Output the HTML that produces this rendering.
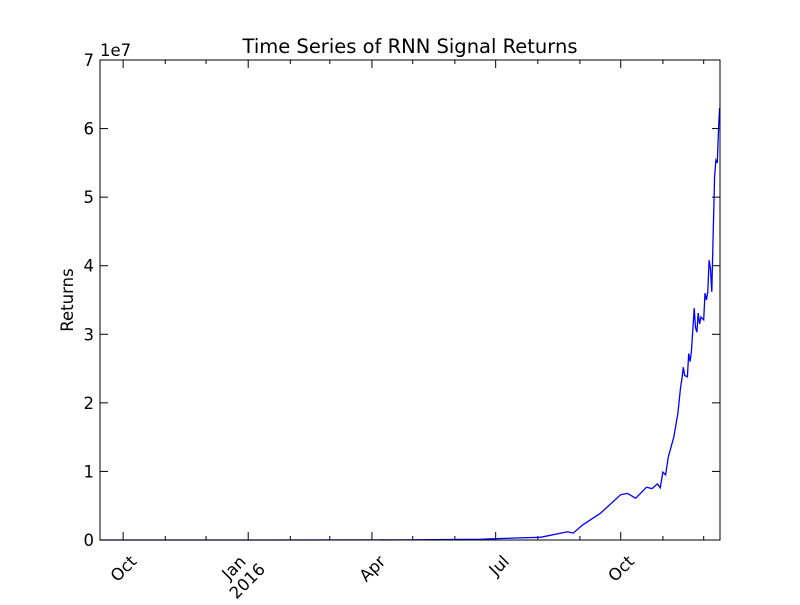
<!DOCTYPE html>
<html><head><meta charset="utf-8"><style>
body{margin:0;background:#fff;}
svg text{font-family:"DejaVu Sans","Liberation Sans",sans-serif;fill:#000;}
</style></head><body>
<svg id="chart" width="800" height="600">
<rect width="800" height="600" fill="#fff"/>
<text x="410" y="53" font-size="19.5" text-anchor="middle">Time Series of RNN Signal Returns</text>
<text x="73" y="300" font-size="16.5" text-anchor="middle" transform="rotate(-90 73 300)">Returns</text>
<text x="100" y="56" font-size="16.5">1e7</text>
<g id="axes"></g>
<polyline id="line" fill="none" stroke="#0000ff" stroke-width="1.3"/>
<rect x="100" y="60" width="620" height="480" fill="none" stroke="#000" stroke-width="1"/>
</svg>
<script>
// days since 2016-01-01
const days = [-109, 0, 112, 171, 183, 200, 215, 235, 239, 246, 259, 274, 279, 285, 293, 297, 301, 303, 305, 307, 309, 313, 316, 318, 319, 320, 321, 323, 324, 325, 326, 327, 328, 329, 330, 331, 332, 333, 335, 336, 337, 338, 339, 340, 341, 342, 343, 344, 345, 346, 346.7];
const values = [0, 0, 0.002, 0.01, 0.02, 0.03, 0.04, 0.12, 0.10, 0.22, 0.39, 0.66, 0.68, 0.61, 0.77, 0.75, 0.82, 0.76, 0.99, 0.95, 1.21, 1.50, 1.85, 2.23, 2.35, 2.52, 2.40, 2.38, 2.72, 2.60, 2.75, 3.06, 3.38, 3.10, 3.03, 3.31, 3.15, 3.25, 3.21, 3.60, 3.50, 3.62, 4.08, 3.95, 3.62, 4.48, 5.3, 5.54, 5.50, 6.02, 6.3];
const yTicks = [0, 1, 2, 3, 4, 5, 6, 7];
const xMajorDays = [-92, 0, 91, 182, 274];
const xMajorLabels = [["Oct"], ["Jan", "2016"], ["Apr"], ["Jul"], ["Oct"]];
const xMinorDays = [-61, -31, 31, 60, 121, 152, 213, 244, 305, 335];

const X0 = 100, X1 = 720, Y0 = 540, Y1 = 60;
const dMin = -109, dMax = 347;
const xs = d => X0 + (d - dMin) / (dMax - dMin) * (X1 - X0);
const ys = v => Y0 - v / 7 * (Y0 - Y1);
const NS = "http://www.w3.org/2000/svg";
const ax = document.getElementById("axes");
function ln(x1, y1, x2, y2, name) {
  const l = document.createElementNS(NS, "line");
  l.setAttribute("x1", x1); l.setAttribute("y1", y1); l.setAttribute("x2", x2); l.setAttribute("y2", y2);
  l.setAttribute("stroke", "#000"); l.setAttribute("stroke-width", "1");
  
  
  ax.appendChild(l);
}
yTicks.forEach(v => {
  const y = ys(v);
  ln(X0, y, X0 + 8, y, "y-tick");
  ln(X1, y, X1 - 8, y, "y-tick-right");
  const t = document.createElementNS(NS, "text");
  t.setAttribute("x", 94); t.setAttribute("y", y + 6);
  t.setAttribute("font-size", "16.5"); t.setAttribute("text-anchor", "end");
  t.textContent = v;
  
  
  ax.appendChild(t);
});
xMajorDays.forEach((d, i) => {
  const x = xs(d);
  ln(x, Y0, x, Y0 - 8, "x-tick");
  ln(x, Y1, x, Y1 + 8, "x-tick-top");
  const t = document.createElementNS(NS, "text");
  t.setAttribute("font-size", "16.5"); t.setAttribute("text-anchor", "end");
  const lines = xMajorLabels[i];
  lines.forEach((s, j) => {
    const ts = document.createElementNS(NS, "tspan");
    ts.setAttribute("x", 0); ts.setAttribute("dy", j === 0 ? 0 : 18);
    ts.textContent = s;
    t.appendChild(ts);
  });
  t.setAttribute("transform", `translate(${x + 6},${Y0 + 14}) rotate(-45) translate(0,12)`);
  if (lines.length > 1) {
    t.setAttribute("text-anchor", "middle");
    t.setAttribute("transform", `translate(${x - 4},${Y0 + 38}) rotate(-45)`);
    t.firstChild.setAttribute("dy", -9);
    t.lastChild.setAttribute("dy", 19);
  }
  
  
  ax.appendChild(t);
});
xMinorDays.forEach(d => {
  const x = xs(d);
  ln(x, Y0, x, Y0 - 4, "x-minor-tick");
  ln(x, Y1, x, Y1 + 4, "x-minor-tick-top");
});
document.getElementById("line").setAttribute("points",
  days.map((d, i) => xs(d).toFixed(1) + "," + ys(values[i]).toFixed(1)).join(" "));
</script>
</body></html>
